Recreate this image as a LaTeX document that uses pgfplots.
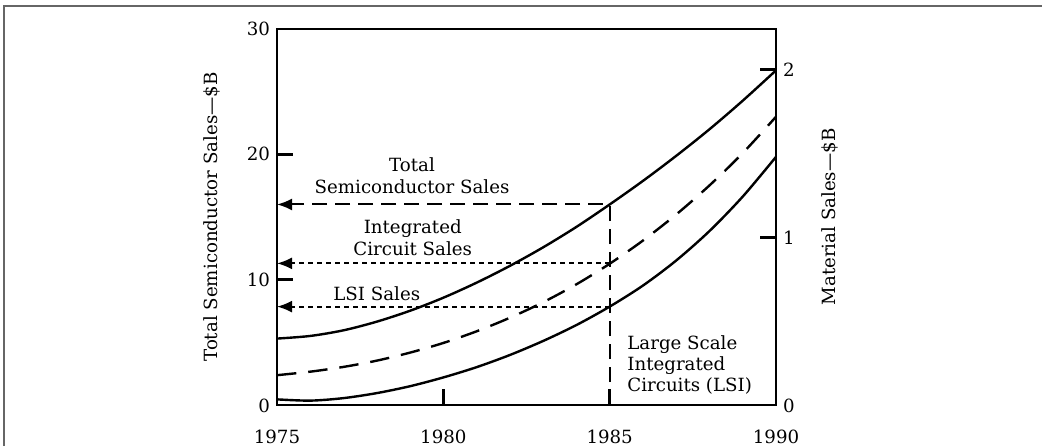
\documentclass[border=0pt]{standalone}
\usepackage{fontspec}
\setmainfont{DejaVu Serif}
\usepackage{pgfplots}
\pgfplotsset{compat=1.18}
\usetikzlibrary{arrows.meta}

\pgfplotsset{
  base/.style={scale only axis, width=249.5pt, height=188pt,
    at={(0,0)}, anchor=south west, clip=false,
    xmin=1975, xmax=1990,
    font=\fontsize{9.1}{11}\selectfont,
    /pgf/number format/assume math mode=true,
    tick align=inside, major tick length=8pt,
    axis line style={line width=1.4pt},
    every tick/.style={line width=1.4pt, black}},
  curve/.style={black, line width=1.2pt, smooth, no marks},
  guide/.style={black, line width=1pt, no marks},
}
\tikzset{note/.style={font=\fontsize{9.1}{11}\selectfont}}

\begin{document}
\begin{tikzpicture}[x=1pt,y=1pt]
\useasboundingbox (-138.5,-20.5) rectangle (382.5,202.5);
\draw[line width=1pt, black!60] (-136.5,-20.5) -- (-136.5,199.5) -- (382.5,199.5);

\begin{axis}[base,
  ymin=0, ymax=30,
  ytick={0,10,20,30}, yticklabels={\raisebox{-8pt}{0},10,20,30},
  ytick pos=left,
  xtick={1975,1980,1985,1990}, xticklabels={1975,1980,1985,1990},
  xtick pos=bottom,
  xticklabel style={yshift=-9pt},
  ylabel={Total Semiconductor Sales---\$B},
  every axis y label/.style={at={(axis description cs:-0.13,0.5)}, rotate=90, anchor=center},
]
% total semiconductor sales
\addplot[curve] coordinates {
(1975,5.30) (1976,5.51) (1977,5.96) (1978,6.65) (1979,7.52) (1980,8.56)
(1981,9.76) (1982,11.10) (1983,12.58) (1984,14.21) (1985,16.0)
(1986,17.88) (1987,19.88) (1988,22.0) (1989,24.28) (1990,26.7)};
% integrated circuit sales
\addplot[curve, dash pattern=on 9.7pt off 6pt] coordinates {
(1975,2.38) (1976,2.66) (1977,3.04) (1978,3.54) (1979,4.18) (1980,4.95)
(1981,5.88) (1982,6.96) (1983,8.2) (1984,9.63) (1985,11.27)
(1986,13.12) (1987,15.2) (1988,17.52) (1989,20.1) (1990,23.0)};
% LSI
\addplot[curve] coordinates {
(1975,0.45) (1976,0.35) (1977,0.55) (1978,0.95) (1979,1.5) (1980,2.2)
(1981,3.02) (1982,3.99) (1983,5.11) (1984,6.38) (1985,7.85)
(1986,9.53) (1987,11.53) (1988,13.88) (1989,16.63) (1990,19.8)};

% 1985 read-offs
\addplot[guide, dash pattern=on 7.5pt off 4pt, -{Latex[length=7.5pt,width=6pt]}]
  coordinates {(1985,0) (1985,16.0) (1975,16.0)};
\addplot[guide, dash pattern=on 2.5pt off 2pt, -{Latex[length=7.5pt,width=6pt]}]
  coordinates {(1985,11.3) (1975,11.3)};
\addplot[guide, dash pattern=on 2.5pt off 2pt, -{Latex[length=7.5pt,width=6pt]}]
  coordinates {(1985,7.85) (1975,7.85)};

\node[note, align=center] at (axis cs:1979.06,18.27) {Total\\Semiconductor Sales};
\node[note, align=center] at (axis cs:1979.08,13.36) {Integrated\\Circuit Sales};
\node[note] at (axis cs:1978.0,8.86) {LSI Sales};
\node[note, align=left, anchor=west, inner sep=0pt, font=\fontsize{9.1}{10.5}\selectfont] at (axis cs:1985.52,3.19) {Large Scale\\Integrated\\Circuits (LSI)};
\end{axis}

\begin{axis}[base,
  ymin=0, ymax=2.244,
  axis x line=none, axis y line*=right,
  ytick={0,1,2}, yticklabels={\raisebox{-8pt}{0},1,2},
  ylabel={Material Sales---\$B},
  every axis y label/.style={at={(axis description cs:1.108,0.5)}, rotate=90, anchor=center},
]
\end{axis}
\end{tikzpicture}
\end{document}
